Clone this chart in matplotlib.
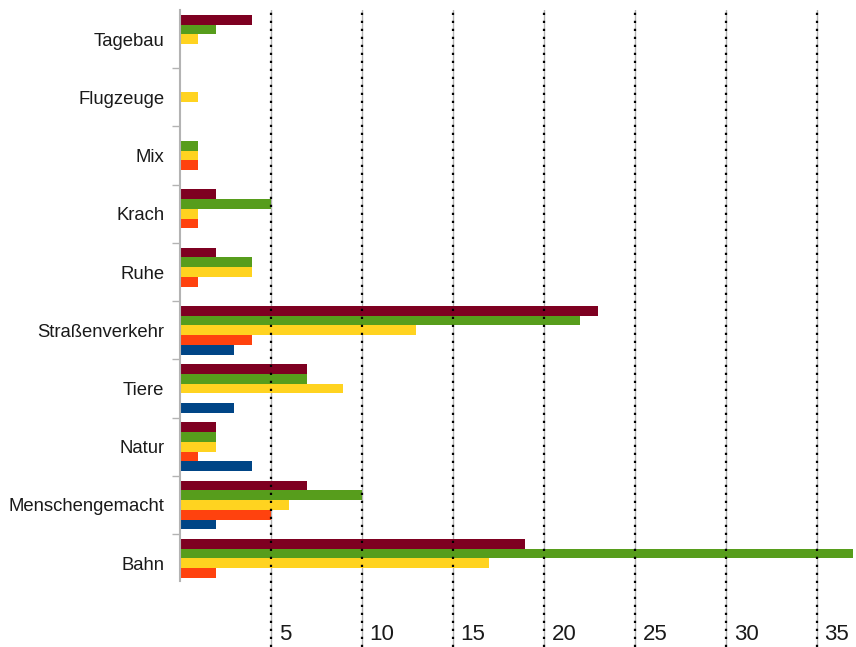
import matplotlib
matplotlib.use("Agg")
import matplotlib.pyplot as plt
import matplotlib.transforms as mtransforms
import numpy as np

plt.rcParams['font.family'] = ['Liberation Sans', 'DejaVu Sans']

categories = ["Bahn", "Menschengemacht", "Natur", "Tiere", "Straßenverkehr",
              "Ruhe", "Krach", "Mix", "Flugzeuge", "Tagebau"]
series_red = [19, 7, 2, 7, 23, 2, 2, 0, 0, 4]
series_green = [37, 10, 2, 7, 22, 4, 5, 1, 0, 2]
series_yellow = [17, 6, 2, 9, 13, 4, 1, 1, 1, 1]
series_orange = [2, 5, 1, 0, 4, 1, 1, 1, 0, 0]
series_blue = [0, 2, 4, 3, 3, 0, 0, 0, 0, 0]
xtick_values = [5, 10, 15, 20, 25, 30, 35]
xtick_labels = ["5", "10", "15", "20", "25", "30", "35"]

colors = ["#7E0021", "#579D1C", "#FFD320", "#FF420E", "#004586"]
all_series = [series_red, series_green, series_yellow, series_orange, series_blue]
offsets = [2, 1, 0, -1, -2]

W, H = 856, 647
fig = plt.figure(figsize=(W / 100, H / 100), dpi=100)
left_px, right_px, top_px, bottom_px = 179.7, 853, 10, 647
ax = fig.add_axes([left_px / W, 1 - bottom_px / H, (right_px - left_px) / W, (bottom_px - top_px) / H])

y = np.arange(len(categories))
h = 0.167
for s, c, o in zip(all_series, colors, offsets):
    ax.barh(y + o * h, s, height=h, color=c, zorder=2, linewidth=0)

ax.set_xlim(0, 37)
ax.set_ylim(-1.44, 9.5)

for v in xtick_values:
    ax.axvline(v, color="#b3b3b3", lw=1.0, zorder=1)
    ax.axvline(v, color="#000000", lw=1.6, linestyle=(0, (1, 2.6)),
               dash_capstyle="butt", zorder=3)

trans = mtransforms.blended_transform_factory(ax.transData, ax.transAxes)
offset = mtransforms.ScaledTranslation(8 / 100, 0, fig.dpi_scale_trans)
for v, lab in zip(xtick_values, xtick_labels):
    ax.text(v, 12 / (bottom_px - top_px), lab, transform=trans + offset,
            ha="left", va="center", fontsize=16, color="#1a1a1a")

ax.set_xticks([])
ax.set_yticks(y)
ax.set_yticklabels(categories, fontsize=13.3, color="#1a1a1a")
ax.tick_params(axis="y", which="major", length=0, pad=11)
ax.set_yticks(y[:-1] + 0.5, minor=True)
ax.tick_params(axis="y", which="minor", length=6, width=1, color="#b3b3b3")

for sp in ["top", "right", "bottom"]:
    ax.spines[sp].set_visible(False)
ax.spines["left"].set_color("#b3b3b3")
ax.spines["left"].set_linewidth(1.5)
ax.spines["left"].set_bounds(-0.3, 9.5)
ax.spines["left"].set_zorder(4)

fig.savefig("out.png", dpi=100)
